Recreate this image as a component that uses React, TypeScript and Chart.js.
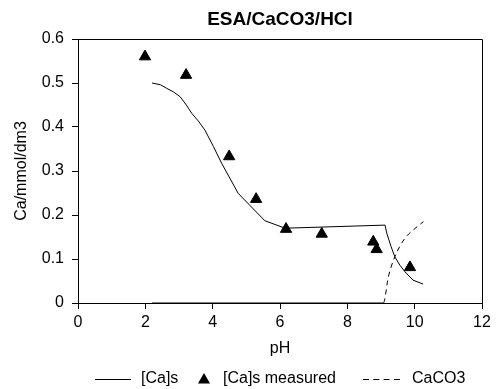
import React, { useEffect, useRef } from "react";
import { Chart, registerables } from "chart.js";

Chart.register(...registerables);

// [Ca]s model curve
const caX = [2.2, 2.45, 2.63, 2.83, 3.03, 3.2, 3.38, 3.57, 3.77, 4.02, 4.27, 4.76, 5.55, 6.15, 9.12, 9.17, 9.3, 9.41, 9.56, 9.71, 9.95, 10.25];
const caY = [0.5, 0.496, 0.488, 0.48, 0.469, 0.452, 0.431, 0.414, 0.393, 0.356, 0.317, 0.249, 0.187, 0.17, 0.177, 0.159, 0.128, 0.105, 0.086, 0.071, 0.052, 0.043];

// [Ca]s measured
const measX = [1.99, 3.21, 4.49, 5.29, 6.18, 7.24, 8.77, 8.87, 9.86];
const measY = [0.56, 0.518, 0.333, 0.236, 0.168, 0.157, 0.139, 0.122, 0.081];

// CaCO3
const cacX = [2.2, 9.07, 9.22, 9.41, 9.71, 9.96, 10.26];
const cacY = [0, 0, 0.06, 0.105, 0.147, 0.166, 0.185];

const xTicks = [0, 2, 4, 6, 8, 10, 12];
const yTicks = [0, 0.1, 0.2, 0.3, 0.4, 0.5, 0.6];

const labels = ["[Ca]s", "[Ca]s measured", "CaCO3"];
const titleText = "ESA/CaCO3/HCl";
const FONT = "'Liberation Sans', Arial, sans-serif";

const pts = (xs: number[], ys: number[]) => xs.map((x, i) => ({ x, y: ys[i] }));

const framePlugin = {
  id: "frame",
  afterDraw(chart: any) {
    const { ctx, chartArea } = chart;
    ctx.save();
    ctx.strokeStyle = "#000";
    ctx.lineWidth = 1;
    const l = Math.round(chartArea.left) + 0.5;
    const t = Math.round(chartArea.top) + 0.5;
    const r = Math.round(chartArea.right) + 0.5;
    const b = Math.round(chartArea.bottom) + 0.5;
    ctx.beginPath();
    ctx.moveTo(l, t);
    ctx.lineTo(r, t);
    ctx.lineTo(r, b);
    ctx.stroke();
    // title centred over the plot area
    ctx.font = `bold 19px ${FONT}`;
    ctx.fillStyle = "#000";
    ctx.textAlign = "center";
    ctx.textBaseline = "middle";
    ctx.fillText(titleText, (chartArea.left + chartArea.right) / 2, 20);
    ctx.restore();
  },
};

const legendPlugin = {
  id: "customLegend",
  afterDraw(chart: any) {
    const { ctx } = chart;
    const ds = chart.data.datasets;
    const y = 379;
    ctx.save();
    ctx.font = `16px ${FONT}`;
    ctx.fillStyle = "#000";
    ctx.strokeStyle = "#000";
    ctx.textBaseline = "middle";
    ctx.textAlign = "left";
    ctx.lineWidth = 1;
    ctx.setLineDash([]);
    ctx.beginPath();
    ctx.moveTo(95, y + 0.5);
    ctx.lineTo(131, y + 0.5);
    ctx.stroke();
    ctx.fillText(ds[0].label, 141, y);
    const r = 7;
    const cx = 204;
    const cy = y + 1;
    ctx.beginPath();
    ctx.moveTo(cx, cy - r);
    ctx.lineTo(cx + Math.sin((2 * Math.PI) / 3) * r, cy + r / 2);
    ctx.lineTo(cx - Math.sin((2 * Math.PI) / 3) * r, cy + r / 2);
    ctx.closePath();
    ctx.fill();
    ctx.fillText(ds[1].label, 223, y);
    ctx.setLineDash([6, 4.3]);
    ctx.beginPath();
    ctx.moveTo(363, y + 0.5);
    ctx.lineTo(400, y + 0.5);
    ctx.stroke();
    ctx.setLineDash([]);
    ctx.fillText(ds[2].label, 412, y);
    ctx.restore();
  },
};

export default function App() {
  const ref = useRef<HTMLCanvasElement | null>(null);
  useEffect(() => {
    document.body.style.margin = "0";
    if (!ref.current) return;
    Chart.defaults.font.family = FONT;
    Chart.defaults.color = "#000";
    const chart = new Chart(ref.current, {
      type: "line",
      data: {
        datasets: [
          {
            label: labels[0],
            data: pts(caX, caY),
            borderColor: "#000",
            borderWidth: 1,
            pointRadius: 0,
            tension: 0,
            fill: false,
          },
          {
            label: labels[1],
            data: pts(measX, measY),
            showLine: false,
            pointStyle: "triangle",
            pointRadius: 6.5,
            pointBackgroundColor: "#000",
            pointBorderColor: "#000",
            borderColor: "#000",
            backgroundColor: "#000",
          },
          {
            label: labels[2],
            data: pts(cacX, cacY),
            borderColor: "#000",
            borderWidth: 1,
            pointRadius: 0,
            borderDash: [5, 4],
            cubicInterpolationMode: "monotone",
            segment: {
              borderDash: (c: any) =>
                c.p0.parsed.y === 0 && c.p1.parsed.y === 0 ? [] : [5, 4],
            },
            fill: false,
          },
        ],
      },
      options: {
        animation: false,
        responsive: true,
        maintainAspectRatio: false,
        layout: { padding: { left: 0, right: 18, top: 39, bottom: 26 } },
        plugins: {
          legend: { display: false },
          tooltip: { enabled: false },
          title: { display: false },
        },
        scales: {
          x: {
            type: "linear",
            min: 0,
            max: 12,
            afterFit: (s: any) => {
              s.height = 60;
            },
            afterBuildTicks: (s: any) => {
              s.ticks = xTicks.map((v) => ({ value: v }));
            },
            ticks: { font: { size: 16 }, color: "#000", padding: 4, maxRotation: 0 },
            grid: { display: true, drawOnChartArea: false, drawTicks: true, tickLength: 6, color: "#000" },
            border: { display: true, color: "#000", width: 1 },
            title: {
              display: true,
              text: "pH",
              font: { size: 16 },
              color: "#000",
              padding: { top: 0, bottom: 4.4 },
            },
          },
          y: {
            type: "linear",
            min: 0,
            max: 0.6,
            afterFit: (s: any) => {
              s.width = 78;
            },
            afterBuildTicks: (s: any) => {
              s.ticks = yTicks.map((v) => ({ value: v }));
            },
            ticks: {
              font: { size: 16 },
              color: "#000",
              padding: 8,
              callback: (v: any) => String(Math.round(Number(v) * 10) / 10),
            },
            grid: { display: true, drawOnChartArea: false, drawTicks: true, tickLength: 6, color: "#000" },
            border: { display: true, color: "#000", width: 1 },
            title: {
              display: true,
              text: "Ca/mmol/dm3",
              font: { size: 16 },
              color: "#000",
              padding: { top: 12, bottom: 0 },
            },
          },
        },
      },
      plugins: [framePlugin, legendPlugin],
    } as any);
    return () => chart.destroy();
  }, []);
  return (
    <div style={{ width: 500, height: 389, position: "relative" }}>
      <canvas ref={ref} />
    </div>
  );
}
